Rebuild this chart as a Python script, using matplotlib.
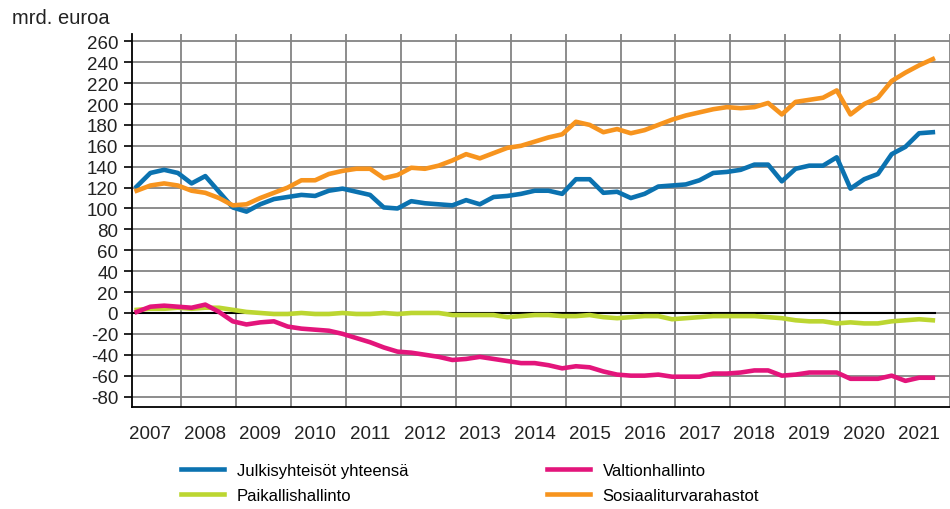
import matplotlib
matplotlib.use("Agg")
import matplotlib.pyplot as plt
import numpy as np

plt.rcParams['font.family'] = ['Liberation Sans', 'DejaVu Sans']
plt.rcParams['axes.unicode_minus'] = False

# quarterly data 2007Q1 - 2021Q3, mrd. euroa
years = [str(y) for y in range(2007, 2022)]

total = [121, 134, 137, 134, 124, 131, 116, 101, 97, 104, 109, 111,
         113, 112, 117, 119, 116, 113, 101, 100, 107, 105, 104, 103,
         108, 104, 111, 112, 114, 117, 117, 114, 128, 128, 115, 116,
         110, 114, 121, 122, 123, 127, 134, 135, 137, 142, 142, 126,
         138, 141, 141, 149, 119, 128, 133, 152, 159, 172, 173]

state = [1, 6, 7, 6, 5, 8, 1, -8, -11, -9, -8, -13,
         -15, -16, -17, -20, -24, -28, -33, -37, -38, -40, -42, -45,
         -44, -42, -44, -46, -48, -48, -50, -53, -51, -52, -56, -59,
         -60, -60, -59, -61, -61, -61, -58, -58, -57, -55, -55, -60,
         -59, -57, -57, -57, -63, -63, -63, -60, -65, -62, -62]

local = [3, 4, 4, 5, 4, 5, 5, 3, 1, 0, -1, -1,
         0, -1, -1, 0, -1, -1, 0, -1, 0, 0, 0, -2,
         -2, -2, -2, -4, -3, -2, -2, -3, -3, -2, -4, -5,
         -4, -3, -3, -6, -5, -4, -3, -3, -3, -3, -4, -5,
         -7, -8, -8, -10, -9, -10, -10, -8, -7, -6, -7]

social = [117, 122, 124, 122, 117, 115, 110, 103, 104, 110, 115, 120,
          127, 127, 133, 136, 138, 138, 129, 132, 139, 138, 141, 146,
          152, 148, 153, 158, 160, 164, 168, 171, 183, 180, 173, 176,
          172, 175, 180, 185, 189, 192, 195, 197, 196, 197, 201, 190,
          202, 204, 206, 213, 190, 200, 206, 222, 230, 237, 243]

names = ["Julkisyhteisöt yhteensä", "Paikallishallinto",
         "Valtionhallinto", "Sosiaaliturvarahastot"]
colors = ["#0b72b0", "#bcd631", "#e3157b", "#f7941e"]

x = np.arange(len(total))

fig = plt.figure(figsize=(9.5, 5.1), dpi=100)
ax = fig.add_axes([132 / 950, 102 / 510, 818 / 950, 373 / 510])

ax.hlines(0, -0.34, x[-1] + 0.2, color="black", lw=1.5, zorder=2.5)
lines = []
for vals, name, c in zip([total, local, state, social], names, colors):
    ln, = ax.plot(x, vals, color=c, lw=3.3, label=name, zorder=3,
                  solid_joinstyle="round")
    lines.append(ln)

ax.set_xlim(-0.34, 58.4)
ax.set_ylim(-90, 267)
ax.set_yticks(np.arange(-80, 261, 20))
ax.set_xticks(np.arange(len(years)) * 4 + 1.0)
ax.set_xticklabels(years)
ax.set_xticks(np.arange(len(years)) * 4 + 3.25, minor=True)

ax.grid(axis="y", which="major", color="#848484", lw=1.3)
ax.grid(axis="x", which="minor", color="#848484", lw=1.3)
ax.set_axisbelow(True)

for s in ["top", "right"]:
    ax.spines[s].set_visible(False)
for s in ["left", "bottom"]:
    ax.spines[s].set_color("black")
    ax.spines[s].set_linewidth(1.3)

ax.tick_params(axis="y", length=6, width=1.2, pad=4, labelsize=13.5,
               labelcolor="#222222")
ax.tick_params(axis="x", which="both", length=0, pad=13, labelsize=13.5,
               labelcolor="#222222")

fig.text(12 / 950, 1 - 18 / 510, "mrd. euroa", fontsize=14.5,
         va="center", ha="left", color="#222222")

fig.legend(handles=lines, ncol=2, frameon=False, loc="upper left",
           bbox_to_anchor=(181 / 950, 1 - 464 / 510), fontsize=12,
           handlelength=2.6, handletextpad=0.75, columnspacing=8.3,
           labelspacing=0.6, borderpad=0, borderaxespad=0)

fig.savefig("out.png", dpi=100)
